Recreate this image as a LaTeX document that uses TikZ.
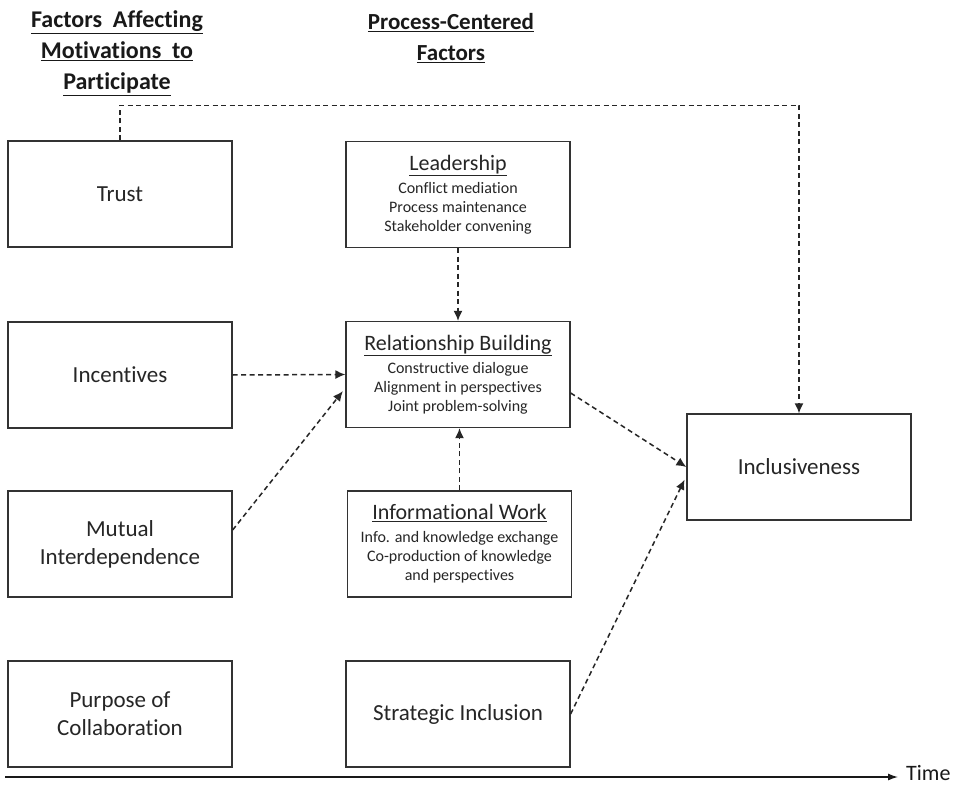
\documentclass[tikz,border=0pt]{standalone}
\usepackage{fontspec}
\setmainfont{Carlito}[Ligatures=NoCommon]
\usetikzlibrary{arrows.meta,calc}
\tikzset{
  box/.style={draw=black!80, line width=1.3pt, minimum width=224pt, minimum height=106pt, inner sep=0pt, align=center, text=black!85, font=\fontsize{23}{28}\selectfont},
  dbox/.style={box, font=\fontsize{16}{19}\selectfont},
  dasharrow/.style={draw=black!85, line width=1.5pt, dash pattern=on 5pt off 3.5pt, -{Latex[length=10pt,width=9pt]}},
  heading/.style={align=center, text=black!90, font=\fontsize{24}{31}\selectfont\bfseries},
}
\newcommand{\ttl}[1]{{\fontsize{22}{22}\selectfont\underline{#1}}}
\begin{document}
\begin{tikzpicture}[x=1pt,y=-1pt]
\useasboundingbox[fill=white] (0,0) rectangle (963,786);

\node[heading] (h1) at (117,53) {\underline{Factors\hspace{0.45em}Affecting}\\\underline{Motivations\hspace{0.45em}to}\\\underline{Participate}};
\node[heading, font=\fontsize{23}{31}\selectfont\bfseries] (h2) at (451,38) {\underline{Process-Centered}\\\underline{Factors}};

\node[box] (trust) at (120,194) {Trust};
\node[box] (incent) at (120,375) {Incentives};
\node[box] (mutual) at (120,544) {Mutual\\Interdependence};
\node[box] (purpose) at (120,714) {Purpose of\\Collaboration};

\node[dbox] (lead) at (458,194.5) {\ttl{Leadership}\\[4pt]Conflict mediation\\Process maintenance\\Stakeholder convening};
\node[dbox] (rb) at (458,374.5) {\ttl{Relationship Building}\\[4pt]Constructive dialogue\\Alignment in perspectives\\Joint problem-solving};
\node[dbox] (info) at (459.5,544) {\ttl{Informational Work}\\[4pt]Info. and knowledge exchange\\Co-production of knowledge\\and perspectives};
\node[box] (strat) at (458,714) {Strategic Inclusion};

\node[box] (incl) at (799,467) {Inclusiveness};

\draw[dasharrow] (trust.north) -- ++(0,-35) -| (incl.north);
\draw[dasharrow] (lead.south) -- (rb.north);
\draw[dasharrow] (incent.east) -- (rb.west);
\draw[dasharrow, shorten >=4pt] ([yshift=14pt]mutual.east) -- ([yshift=-13.5pt]rb.west);
\draw[dasharrow] (info.north) -- (info.north |- rb.south);
\draw[dasharrow] ([yshift=-18.5pt]rb.east) -- (incl.west);
\draw[dasharrow, shorten >=4pt] (strat.east) -- ([yshift=-9pt]incl.west);

\coordinate (t0) at (5,777);
\node[text=black!90, font=\fontsize{22}{24}\selectfont, inner sep=0pt, anchor=west] (time) at (906,773) {Time};
\draw[line width=1.3pt, draw=black!90, -{Latex[length=10pt,width=7pt]}] (t0) -- ([xshift=-8pt]time.west |- t0);
\end{tikzpicture}
\end{document}
